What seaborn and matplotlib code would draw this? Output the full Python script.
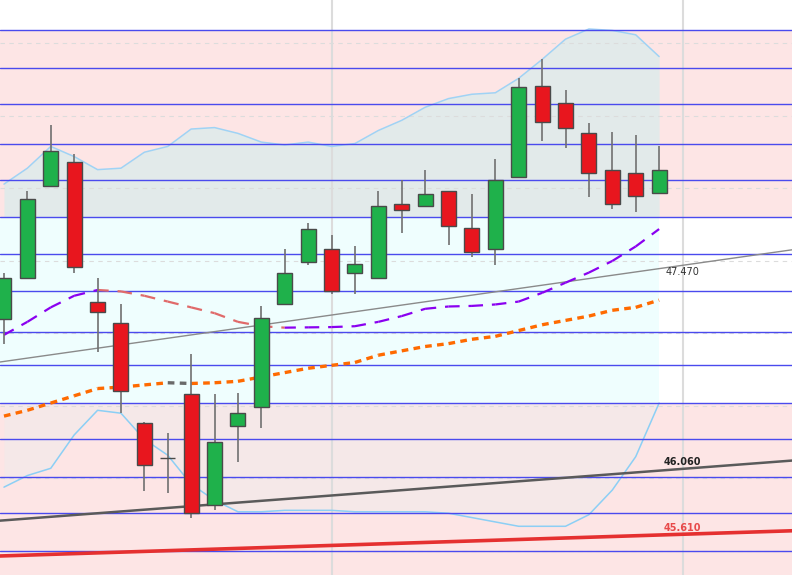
import numpy as np
import matplotlib
matplotlib.use('Agg')
import matplotlib.pyplot as plt
import seaborn as sns

# 蜡烛图数据 (开, 高, 低, 收)
opens = [47.10, 47.38, 48.02, 48.18, 47.22, 47.07, 46.38, 46.14, 46.58, 45.82,
         46.36, 46.49, 47.20, 47.49, 47.58, 47.42, 47.38, 47.89, 47.88, 47.98,
         47.73, 47.58, 48.08, 48.71, 48.59, 48.38, 48.13, 48.11, 47.97]
highs = [47.42, 47.98, 48.44, 48.24, 47.38, 47.20, 46.39, 46.31, 46.86, 46.58,
         46.59, 47.19, 47.58, 47.76, 47.68, 47.60, 47.98, 48.06, 48.13, 47.98,
         47.96, 48.20, 48.76, 48.89, 48.68, 48.45, 48.39, 48.37, 48.29]
lows = [46.93, 47.38, 48.02, 47.42, 46.87, 46.45, 45.91, 45.90, 45.73, 45.78,
        46.11, 46.35, 47.20, 47.47, 47.27, 47.27, 47.38, 47.69, 47.87, 47.61,
        47.53, 47.47, 48.08, 48.33, 48.28, 47.94, 47.86, 47.84, 47.97]
closes = [47.38, 47.93, 48.26, 47.46, 47.15, 46.60, 46.09, 46.14, 45.76, 46.25,
          46.45, 47.11, 47.42, 47.72, 47.29, 47.48, 47.88, 47.85, 47.96, 47.74,
          47.56, 48.06, 48.70, 48.46, 48.42, 48.11, 47.89, 47.95, 48.13]

# 布林带
bb_upper = [48.03, 48.14, 48.29, 48.22, 48.13, 48.14, 48.25, 48.29, 48.41, 48.42,
            48.38, 48.32, 48.30, 48.32, 48.29, 48.31, 48.40, 48.47, 48.56, 48.62,
            48.65, 48.66, 48.76, 48.89, 49.03, 49.10, 49.09, 49.06, 48.91]
bb_lower = [45.94, 46.02, 46.07, 46.30, 46.47, 46.45, 46.27, 46.16, 45.96, 45.85,
            45.77, 45.77, 45.78, 45.78, 45.78, 45.77, 45.77, 45.77, 45.77, 45.76,
            45.73, 45.70, 45.67, 45.67, 45.67, 45.75, 45.92, 46.15, 46.52]
bb_mid = [46.99, 47.08, 47.18, 47.26, 47.30, 47.29, 47.26, 47.22, 47.18, 47.14,
          47.08, 47.05, 47.040, 47.042, 47.044, 47.05, 47.08, 47.12, 47.17, 47.186,
          47.19, 47.20, 47.22, 47.28, 47.35, 47.42, 47.50, 47.60, 47.72]
ma_slow = [46.43, 46.47, 46.52, 46.57, 46.62, 46.63, 46.645, 46.66, 46.655, 46.66,
           46.67, 46.70, 46.73, 46.76, 46.78, 46.80, 46.85, 46.88, 46.91, 46.93,
           46.96, 46.98, 47.02, 47.06, 47.09, 47.12, 47.16, 47.18, 47.23]

# 水平阻力/支撑线
levels = [49.09, 48.83, 48.58, 48.31, 48.06, 47.80, 47.55, 47.29, 47.01, 46.78,
          46.52, 46.27, 46.01, 45.76, 45.50]
zone_top, zone_bottom = 47.80, 46.52

# 趋势线 (起点价格, 标注处价格, 标注文字)
trend_thin = (46.807, 47.470, '47.470')
trend_dark = (45.711, 46.066, '46.060')
trend_red = (45.466, 45.615, '45.610')
label_idx = 29
day_lines = [14, 29]

n = len(opens)
idx = np.arange(n)
x_min, x_max = -0.17, 33.68
y_min, y_max = 45.334, 49.30

sns.set_theme(style='white')
plt.rcParams['font.family'] = ['DejaVu Sans']

fig = plt.figure(figsize=(7.92, 5.75), dpi=100)
ax = fig.add_axes([0, 0, 1, 1])
ax.set_xlim(x_min, x_max)
ax.set_ylim(y_min, y_max)
ax.axis('off')

# 背景区域
pink = '#fde5e5'
ax.axhspan(zone_top, levels[0], color=pink, lw=0, zorder=0)
ax.axhspan(y_min, zone_bottom, color=pink, lw=0, zorder=0)

up = np.array(bb_upper)
lo = np.array(bb_lower)
ax.fill_between(idx, zone_top, up, color='#e2eaea', lw=0, zorder=1)
ax.fill_between(idx, np.minimum(lo, zone_bottom), zone_bottom, color='#f5e8e8', lw=0, zorder=1)
ax.fill_between([x_min, n - 1], zone_bottom, zone_top, color='#effefe', lw=0, zorder=1)

# 网格
for g in np.arange(45.5, 49.01, 0.5):
    ax.axhline(g, color='#dcdcdc', lw=0.8, ls=(0, (4, 4)), zorder=1.5)
for d in day_lines:
    ax.axvline(d, color='#dcdcdc', lw=1.5, zorder=1.5)

# 布林带边线
sns.lineplot(x=idx, y=bb_upper, color='#9fd3f5', lw=1.1, ax=ax, zorder=2)
sns.lineplot(x=idx, y=bb_lower, color='#8ccff5', lw=1.1, ax=ax, zorder=2)

# 水平线
for lv in levels:
    ax.axhline(lv, color='#4a4aee', lw=1.0, zorder=3)

# 趋势线
xs = np.array([x_min, x_max])
for (p0, p1, _), col, lw in [(trend_thin, '#8a8a8a', 1.0),
                             (trend_dark, '#5a5a5a', 1.8),
                             (trend_red, '#e53030', 2.6)]:
    slope = (p1 - p0) / label_idx
    sns.lineplot(x=xs, y=p0 + slope * xs, color=col, lw=lw, ax=ax, zorder=3.5)


def draw_by_slope(vals, up_col, down_col, ls, lw):
    for i in range(n - 1):
        col = up_col if vals[i + 1] >= vals[i] else down_col
        ax.plot([i, i + 1], [vals[i], vals[i + 1]], color=col, lw=lw, ls=ls,
                zorder=4, solid_capstyle='butt')


draw_by_slope(bb_mid, '#8a00f0', '#e06a6a', (0, (5, 4)), 1.6)
draw_by_slope(ma_slow, '#ff6a00', '#6a6a6a', (0, (2, 1.6)), 2.4)

# 蜡烛
width = 0.64
for i in range(n):
    o, h, l, c = opens[i], highs[i], lows[i], closes[i]
    col = '#1fb14b' if c >= o else '#e8161e'
    ax.vlines(i, l, h, color='#707070', lw=1.2, zorder=5)
    body = max(abs(c - o), 0.004)
    ax.bar(i, body, width=width, bottom=min(o, c), color=col,
           edgecolor='#4a4a4a', lw=1.0, zorder=6)

# 标注
ax.text(label_idx, trend_thin[1] - 0.01, trend_thin[2], ha='center', va='top',
        fontsize=7, color='#333333', zorder=7)
ax.text(label_idx, trend_dark[1] + 0.015, trend_dark[2], ha='center', va='bottom',
        fontsize=7, color='#222222', fontweight='bold', zorder=7)
ax.text(label_idx, trend_red[1] + 0.01, trend_red[2], ha='center', va='bottom',
        fontsize=7, color='#e84a4a', fontweight='bold', zorder=7)

fig.savefig('out.png', dpi=100)
